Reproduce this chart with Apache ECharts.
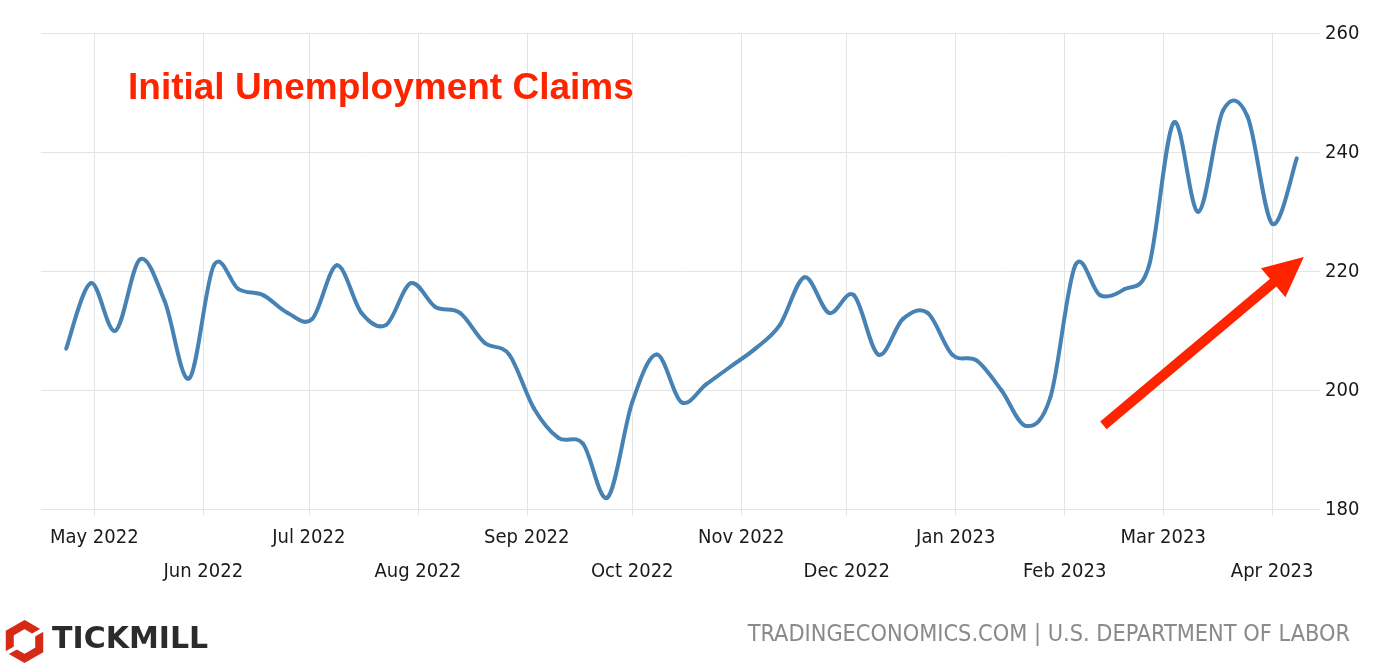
<!DOCTYPE html>
<html>
<head>
<meta charset="utf-8">
<script src="https://cdn.jsdelivr.net/npm/echarts@6/dist/echarts.min.js"></script>
<style>
html,body{margin:0;padding:0;background:#fff;}
#c{width:1379px;height:666px;}
</style>
</head>
<body>
<div id="c"></div>
<script>
// ---- data (thousands) ----
const weekDates = [
 '2022-04-23','2022-04-30','2022-05-07','2022-05-14','2022-05-21','2022-05-28',
 '2022-06-04','2022-06-11','2022-06-18','2022-06-25','2022-07-02','2022-07-09',
 '2022-07-16','2022-07-23','2022-07-30','2022-08-06','2022-08-13','2022-08-20',
 '2022-08-27','2022-09-03','2022-09-10','2022-09-17','2022-09-24','2022-10-01',
 '2022-10-08','2022-10-15','2022-10-22','2022-10-29','2022-11-05','2022-11-12',
 '2022-11-19','2022-11-26','2022-12-03','2022-12-10','2022-12-17','2022-12-24',
 '2022-12-31','2023-01-07','2023-01-14','2023-01-21','2023-01-28','2023-02-04',
 '2023-02-11','2023-02-18','2023-02-25','2023-03-04','2023-03-11','2023-03-18',
 '2023-03-25','2023-04-01','2023-04-08'
];
const claims = [
 207,218,210,222,215,202,
 221,217,216,213,212,221,
 213,211,218,214,213,208,
 206,197,192,191,182,198,
 206,198,201,204,207,211,
 219,213,216,206,212,213,
 206,205,200,194,199,221,
 216,217,221,245,230,247,
 246,228,239
];
const monthTicks = [
 '2022-05-01','2022-06-01','2022-07-01','2022-08-01','2022-09-01','2022-10-01',
 '2022-11-01','2022-12-01','2023-01-01','2023-02-01','2023-03-01','2023-04-01'
];
const monthNames = ['Jan','Feb','Mar','Apr','May','Jun','Jul','Aug','Sep','Oct','Nov','Dec'];
const titleText = 'Initial Unemployment Claims';
const sourceText = 'TRADINGECONOMICS.COM | U.S. DEPARTMENT OF LABOR';
const brandText = 'TICKMILL';
// arrow annotation in data space: [date, value]
const arrowFrom = ['2023-02-12', 194.1];
const arrowTo = ['2023-04-10', 222.4];

function ts(s){ const p = s.split('-').map(Number); return Date.UTC(p[0], p[1]-1, p[2]); }
const DAY = 864e5;
const xMin = ts('2022-05-01') - 15.16*DAY;
const xMax = ts('2022-05-01') + 348.6*DAY;
const tickVals = monthTicks.map(ts);
const seriesData = weekDates.map((d,i)=>[ts(d), claims[i]]);

const GRID = '#e4e4e4';
const RED = '#ff2400';
const LINE = '#4682b4';

// smooth (Catmull-Rom) segment from point i-1 to point i, positioned by the axes
function renderSegment(params, api){
  const i = params.dataIndex;
  if (i === 0) return null;
  const n = seriesData.length;
  const P = k => api.coord(seriesData[Math.max(0, Math.min(n-1, k))]);
  const p0 = P(i-2), p1 = P(i-1), p2 = P(i), p3 = P(i+1);
  const c1 = [p1[0] + (p2[0]-p0[0])/6, p1[1] + (p2[1]-p0[1])/6];
  const c2 = [p2[0] - (p3[0]-p1[0])/6, p2[1] - (p3[1]-p1[1])/6];
  return {
    type:'bezierCurve',
    shape:{x1:p1[0], y1:p1[1], x2:p2[0], y2:p2[1], cpx1:c1[0], cpy1:c1[1], cpx2:c2[0], cpy2:c2[1]},
    style:{stroke:LINE, lineWidth:4, fill:null, lineCap:'round'}
  };
}

const chart = echarts.init(document.getElementById('c'), null, {renderer:'canvas'});
chart.setOption({
  backgroundColor:'#ffffff',
  animation:false,
  grid:{left:41, right:59, top:33.3, bottom:156.7, containLabel:false},
  xAxis:{
    type:'value', min:xMin, max:xMax, scale:true,
    axisLine:{show:false},
    axisTick:{show:true, length:6, lineStyle:{color:GRID, width:1}, customValues:tickVals},
    splitLine:{show:true, lineStyle:{color:GRID, width:1}},
    axisLabel:{
      customValues:tickVals,
      hideOverlap:false,
      margin:11,
      lineHeight:34,
      fontFamily:'DejaVu Sans Condensed',
      fontSize:20,
      color:'#1a1a1a',
      formatter:function(v){
        const d = new Date(v);
        const m = d.getUTCMonth();
        const t = monthNames[m] + ' ' + d.getUTCFullYear();
        return (m % 2 === 0) ? t : '\n' + t;
      }
    }
  },
  yAxis:{
    type:'value', position:'right', min:180, max:260, interval:20,
    axisLine:{show:false}, axisTick:{show:false},
    splitLine:{show:true, lineStyle:{color:GRID, width:1}},
    axisLabel:{ margin:5, fontFamily:'DejaVu Sans Condensed', fontSize:20, color:'#1a1a1a' }
  },
  series:[{
    type:'custom', name:'Initial Claims', data:seriesData,
    renderItem:renderSegment, encode:{x:0, y:1}, z:10
  }],
  graphic:[
    {id:'title', type:'text', left:128, top:70, z:100, style:{text:titleText, font:'bold 37px "Liberation Sans", Arial, sans-serif', fill:RED}},
    {id:'source', type:'text', right:29, top:623, z:100, style:{text:sourceText, font:'23.3px "DejaVu Sans Condensed", sans-serif', fill:'#8a8a8a'}},
    {id:'brand', type:'text', left:52, top:625, z:100, style:{text:brandText, font:'bold 30px "DejaVu Sans", sans-serif', fill:'#2b2b2b'}}
  ]
});

// annotation arrow and logo, arrow positioned through the chart's own scales
(function(){
  const p0 = chart.convertToPixel({gridIndex:0}, [ts(arrowFrom[0]), arrowFrom[1]]);
  const p1 = chart.convertToPixel({gridIndex:0}, [ts(arrowTo[0]), arrowTo[1]]);
  const dx = p1[0]-p0[0], dy = p1[1]-p0[1];
  const L = Math.sqrt(dx*dx+dy*dy);
  const ux = dx/L, uy = dy/L, nx = -uy, ny = ux;
  const headLen = 40, headHalf = 19;
  const bx = p1[0]-ux*headLen, by = p1[1]-uy*headLen;
  const lineEnd = [p1[0]-ux*(headLen-4), p1[1]-uy*(headLen-4)];
  const cx = 24.5, cy = 641.5, r = 17;
  const hex = [];
  for (let k=0;k<6;k++){ const a = Math.PI/180*(60*k-90); hex.push([cx + r*Math.cos(a), cy + r*Math.sin(a)]); }
  chart.setOption({graphic:[
    {id:'arrowLine', type:'line', shape:{x1:p0[0], y1:p0[1], x2:lineEnd[0], y2:lineEnd[1]}, style:{stroke:RED, lineWidth:10, lineCap:'butt'}, z:50},
    {id:'arrowHead', type:'polygon', shape:{points:[[p1[0],p1[1]],[bx+nx*headHalf, by+ny*headHalf],[bx-nx*headHalf, by-ny*headHalf]]}, style:{fill:RED}, z:50},
    {id:'logoHex', type:'polygon', shape:{points:hex}, style:{fill:'none', stroke:'#d42a16', lineWidth:8, lineJoin:'miter'}, z:50},
    {id:'logoCut1', type:'line', shape:{x1:30, y1:637, x2:46, y2:628}, style:{stroke:'#ffffff', lineWidth:4}, z:51},
    {id:'logoCut2', type:'line', shape:{x1:3, y1:655, x2:19, y2:646}, style:{stroke:'#ffffff', lineWidth:4}, z:51}
  ]});
})();
</script>
</body>
</html>
